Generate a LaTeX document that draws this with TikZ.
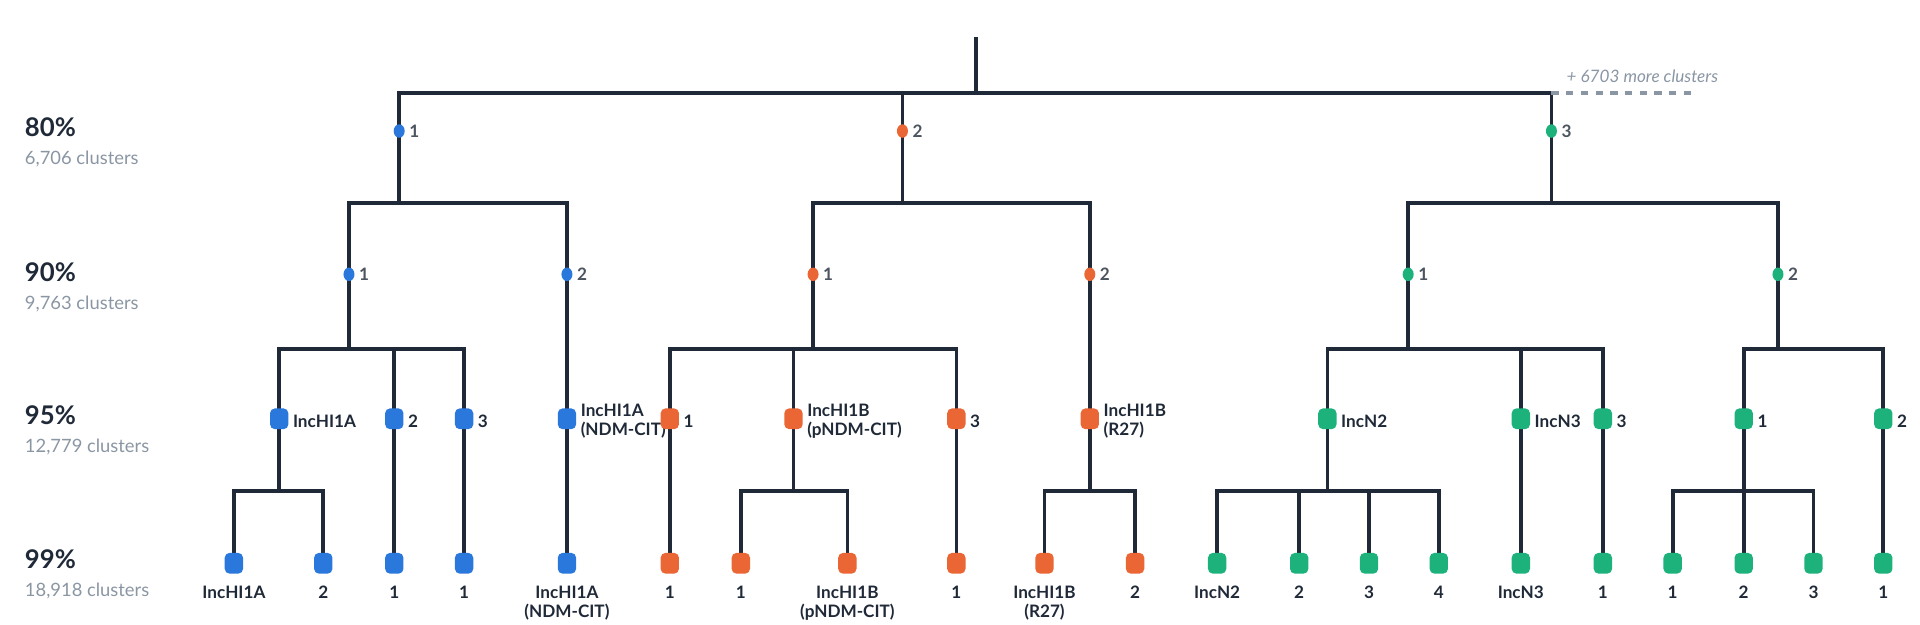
\documentclass[tikz,border=0pt]{standalone}
\usepackage{fontspec}
\setmainfont{Lato}
\usetikzlibrary{backgrounds,shapes.geometric}
\definecolor{cb}{HTML}{2B78DC}
\definecolor{co}{HTML}{EB6635}
\definecolor{cg}{HTML}{1DB27C}
\definecolor{ln}{HTML}{1F2937}
\definecolor{gt}{HTML}{8A96A3}
\begin{document}
\begin{tikzpicture}[x=0.5pt,y=-0.5pt,
  dot/.style={ellipse,inner sep=0pt,minimum width=4.5pt,minimum height=5.5pt,fill=#1},
  sq/.style={rectangle,rounded corners=2pt,inner sep=0pt,minimum width=7.5pt,minimum height=8.5pt,fill=#1},
  lab/.style={anchor=west,font=\bfseries\fontsize{7}{8}\selectfont,text=ln,align=left,inner sep=1.5pt},
  llab/.style={anchor=west,font=\bfseries\fontsize{7}{8}\selectfont,text=ln!80,inner sep=1.5pt},
  blab/.style={anchor=north,font=\bfseries\fontsize{7}{8}\selectfont,text=ln,align=center,inner sep=0pt},
  pct/.style={anchor=west,font=\bfseries\fontsize{10.5}{12}\selectfont,text=ln,inner sep=0pt},
  cl/.style={anchor=west,font=\fontsize{7.5}{8}\selectfont,text=gt,inner sep=0pt},
  edge/.style={draw=ln,line width=1.5pt}]
\useasboundingbox (0,0) rectangle (1568,510.4);
% level labels
\foreach \y/\p/\c in {104/80\%/{6,706 clusters},222/90\%/{9,763 clusters},339/95\%/{12,779 clusters},457/99\%/{18,918 clusters}}{
  \node[pct] (p\y) at (20,\y) {\p};
  \node[cl] (c\y) at (20,\y+26) {\c};
}
\coordinate (root) at (797,30);
\coordinate (t) at (0,76);
\coordinate (bA) at (0,166);
\coordinate (bB) at (0,285);
\coordinate (bC) at (0,401);
\coordinate (dashend) at (1385,76);
% 80
\node[dot=cb] (a) at (326,107) {}; \node[llab] (la) at (a.east) {1};
\node[dot=co] (b) at (737,107) {}; \node[llab] (lb) at (b.east) {2};
\node[dot=cg] (c) at (1267,107) {}; \node[llab] (lc) at (c.east) {3};
\node[anchor=west,font=\itshape\fontsize{7}{8}\selectfont,text=gt,inner sep=0pt] (more) at (1279,62) {+ 6703 more clusters};
% 90
\foreach \n/\x/\col/\t in {a1/285/cb/1,a2/463/cb/2,b1/664/co/1,b2/890/co/2,c1/1150/cg/1,c2/1452/cg/2}{
  \node[dot=\col] (\n) at (\x,224) {}; \node[llab] (l\n) at (\n.east) {\t};
}
% 95
\foreach \n/\x/\col/\t in {a11/228/cb/IncHI1A,a12/322/cb/2,a13/379/cb/3,a21/463/cb/{IncHI1A\\(NDM-CIT)},b11/547/co/1,b12/648/co/{IncHI1B\\(pNDM-CIT)},b13/781/co/3,b21/890/co/{IncHI1B\\(R27)},c11/1084/cg/IncN2,c12/1242/cg/IncN3,c13/1309/cg/3,c21/1424/cg/1,c22/1538/cg/2}{
  \node[sq=\col] (\n) at (\x,342) {}; \node[lab] (l\n) at ([yshift=-1pt]\n.east) {\t};
}
% 99
\foreach \n/\x/\col/\p/\t in {d1/191/cb/a11/IncHI1A,d2/264/cb/a11/2,d3/322/cb/a12/1,d4/379/cb/a13/1,d5/463/cb/a21/{IncHI1A\\(NDM-CIT)},
  e1/547/co/b11/1,e2/605/co/b12/1,e3/692/co/b12/{IncHI1B\\(pNDM-CIT)},e4/781/co/b13/1,e5/853/co/b21/{IncHI1B\\(R27)},e6/927/co/b21/2,
  f1/994/cg/c11/IncN2,f2/1061/cg/c11/2,f3/1118/cg/c11/3,f4/1175/cg/c11/4,f5/1242/cg/c12/IncN3,f6/1309/cg/c13/1,f7/1366/cg/c21/1,f8/1424/cg/c21/2,f9/1481/cg/c21/3,f10/1538/cg/c22/1}{
  \node[sq=\col] (\n) at (\x,460) {}; \node[blab] (l\n) at (\x,478) {\t};
  \begin{pgfonlayer}{background}\draw[edge] (\n.center) -- (\n|-bC) -| (\p.center);\end{pgfonlayer}
}
\begin{pgfonlayer}{background}
\foreach \c/\p in {a/root,b/root,c/root}{\draw[edge] (\c.center) -- (\c|-t) -| (\p);}
\foreach \c/\p in {a1/a,a2/a,b1/b,b2/b,c1/c,c2/c}{\draw[edge] (\c.center) -- (\c|-bA) -| (\p.center);}
\foreach \c/\p in {a11/a1,a12/a1,a13/a1,a21/a2,b11/b1,b12/b1,b13/b1,b21/b2,c11/c1,c12/c1,c13/c1,c21/c2,c22/c2}{\draw[edge] (\c.center) -- (\c|-bB) -| (\p.center);}
\draw[gt,line width=1.3pt,dash pattern=on 3pt off 3pt] (c|-t) -- (dashend);
\end{pgfonlayer}
\end{tikzpicture}
\end{document}
